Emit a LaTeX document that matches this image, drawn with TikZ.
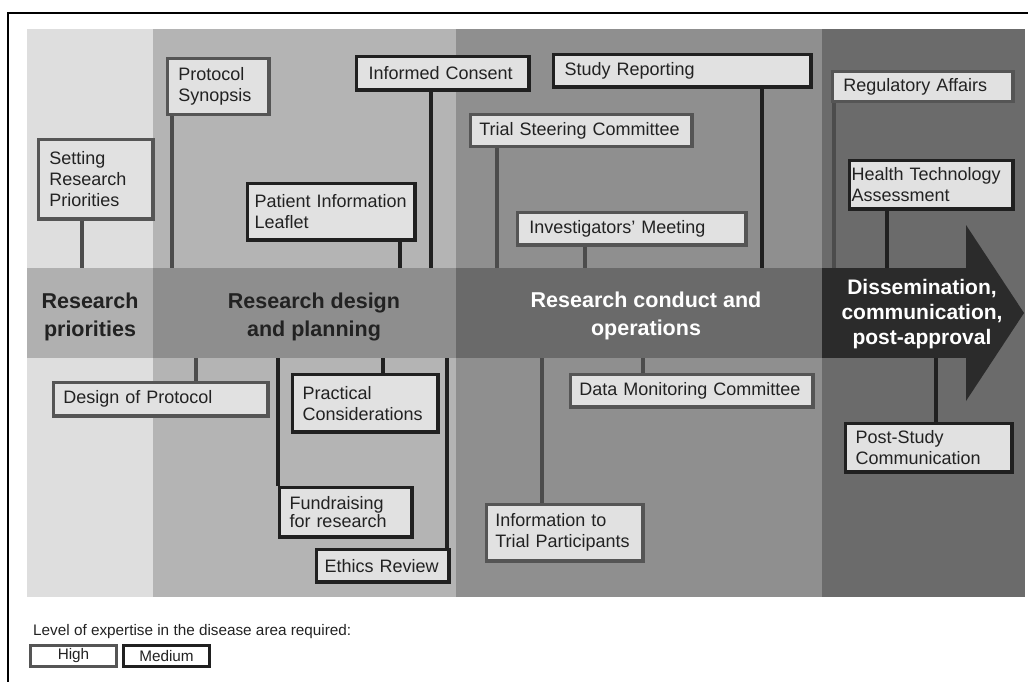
\documentclass[tikz,border=0pt]{standalone}
\usepackage{fontspec}
\setmainfont{Liberation Sans}
\definecolor{bandA}{HTML}{DEDEDE}
\definecolor{bandB}{HTML}{B4B4B4}
\definecolor{bandC}{HTML}{8F8F8F}
\definecolor{bandD}{HTML}{6B6B6B}
\definecolor{segA}{HTML}{B0B0B0}
\definecolor{segB}{HTML}{8E8E8E}
\definecolor{segC}{HTML}{6A6A6A}
\definecolor{segD}{HTML}{2B2B2B}
\definecolor{boxfill}{HTML}{E1E1E1}
\definecolor{hiborder}{HTML}{555555}
\definecolor{medborder}{HTML}{202020}
\definecolor{textdark}{HTML}{222222}
\newcommand\bxfont{\fontsize{18}{21}\selectfont\hyphenpenalty=10000 }
\newcommand\bx[8]{\node[#2, anchor=north west, inner xsep=#7pt, inner ysep=0pt,
  minimum height={(#6-#4-3.4)*1pt}, text width={(#5-#3-3.4-2*#7)*1pt}]
  (#1) at (#3+1.7,#4+1.7) {#8};}
\tikzset{
  hi/.style={draw=hiborder, line width=3.2pt, fill=boxfill, text=textdark, align=left, font=\bxfont},
  med/.style={draw=medborder, line width=3.6pt, fill=boxfill, text=textdark, align=left, font=\bxfont},
  medtight/.style={med, font=\fontsize{18}{18}\selectfont},
  connhi/.style={draw=hiborder!90!black, line width=3.2pt},
  connmed/.style={draw=medborder, line width=3.4pt},
  seg/.style={draw=none, inner sep=0pt, outer sep=0pt, anchor=north west},
  head/.style={font=\fontsize{21.5}{28}\selectfont\bfseries, align=center, inner sep=0pt},
  head2/.style={font=\fontsize{21}{25}\selectfont\bfseries, align=center, inner sep=0pt},
  legbox/.style={line width=3pt, fill=white, text=textdark, minimum width=86pt, minimum height=21pt,
    inner sep=0pt, font=\fontsize{15.3}{18}\selectfont},
}
\begin{document}
\begin{tikzpicture}[x=1pt, y=-1pt]
\useasboundingbox (0,0) rectangle (1028,682);
% frame
\draw[line width=2.5pt] (8,682) -- (8,13) -- (1028,13);
% background bands
\fill[bandA] (27,29) rectangle (153,597);
\fill[bandB] (153,29) rectangle (456,597);
\fill[bandC] (456,29) rectangle (822,597);
\fill[bandD] (822,29) rectangle (1025,597);
% arrow band
\node[seg, fill=segA, minimum width=126pt, minimum height=90pt] (s1) at (27,268) {};
\node[seg, fill=segB, minimum width=303pt, minimum height=90pt] (s2) at (153,268) {};
\node[seg, fill=segC, minimum width=366pt, minimum height=90pt] (s3) at (456,268) {};
\node[seg, fill=segD, minimum width=144pt, minimum height=90pt] (s4) at (822,268) {};
\fill[segD] (s4.north east) -- (966,225) -- (1024,313) -- (966,401) -- (s4.south east) -- cycle;
% headings
\node[head, text=textdark] (t1) at (90,317) {Research\\priorities};
\node[head, text=textdark] (t2) at (314,317) {Research design\\and planning};
\node[head, text=white] (t3) at (646,316) {Research conduct and\\operations};
\node[head2, text=white] (t4) at (922,314) {Dissemination,\\communication,\\post-approval};
% connector x positions
\coordinate (k1) at (82,0);
\coordinate (k2) at (172,0);
\coordinate (k3) at (431,0);
\coordinate (k4) at (400,0);
\coordinate (k5) at (762,0);
\coordinate (k6) at (497,0);
\coordinate (k7) at (585,0);
\coordinate (k8) at (834,0);
\coordinate (k9) at (887,0);
\coordinate (k10) at (196,0);
\coordinate (k11) at (383,0);
\coordinate (k12) at (278,0);
\coordinate (k13) at (447,0);
\coordinate (k14) at (643,0);
\coordinate (k15) at (542,0);
\coordinate (k16) at (936,0);
% boxes above
\bx{srp}{hi}{35}{136}{153}{219}{11}{Setting\\Research\\Priorities}
\bx{ps}{hi}{164}{55}{269}{115}{11}{Protocol\\Synopsis}
\bx{ic}{med}{353}{53}{529}{90}{12}{Informed Consent}
\bx{pil}{med}{244}{180}{415}{240}{7}{Patient Information\\Leaflet}
\bx{sr}{med}{550}{51}{811}{87}{11}{Study Reporting}
\bx{tsc}{hi}{467}{111}{692}{147}{9}{Trial Steering Committee}
\bx{im}{hi}{514}{209}{746}{245}{12}{Investigators' Meeting}
\bx{ra}{hi}{829}{68}{1013}{102}{11}{Regulatory Affairs}
\bx{hta}{med}{846}{157}{1013}{209}{2}{Health Technology\\Assessment}
% boxes below
\bx{dp}{hi}{50}{379}{268}{416}{10}{Design of Protocol}
\bx{pc}{med}{289}{371}{438}{432}{10}{Practical\\Considerations}
\bx{fr}{medtight}{276}{484}{412}{537}{10}{Fundraising\\for research}
\bx{er}{med}{313}{546}{449}{582}{8}{Ethics Review}
\bx{dmc}{hi}{567}{371}{813}{407}{9}{Data Monitoring Committee}
\bx{itp}{hi}{483}{501}{643}{561}{9}{Information to\\Trial Participants}
\bx{psc}{med}{842}{420}{1012}{472}{10}{Post-Study\\Communication}
% connectors above
\draw[connhi] (srp.south -| k1) -- (s1.north -| k1);
\draw[connhi] (ps.south -| k2) -- (s2.north -| k2);
\draw[connmed] (ic.south -| k3) -- (s2.north -| k3);
\draw[connmed] (pil.south -| k4) -- (s2.north -| k4);
\draw[connmed] (sr.south -| k5) -- (s3.north -| k5);
\draw[connhi] (tsc.south -| k6) -- (s3.north -| k6);
\draw[connhi] (im.south -| k7) -- (s3.north -| k7);
\draw[connhi] (ra.south -| k8) -- (s4.north -| k8);
\draw[connmed] (hta.south -| k9) -- (s4.north -| k9);
% connectors below
\draw[connhi] (s2.south -| k10) -- (dp.north -| k10);
\draw[connmed] (s2.south -| k11) -- (pc.north -| k11);
\draw[connmed] (s2.south -| k12) -- (fr.north -| k12);
\draw[connmed] (s2.south -| k13) -- (er.north -| k13);
\draw[connhi] (s3.south -| k14) -- (dmc.north -| k14);
\draw[connhi] (s3.south -| k15) -- (itp.north -| k15);
\draw[connmed] (s4.south -| k16) -- (psc.north -| k16);
% legend
\node[anchor=base west, inner sep=0pt, text=textdark, font=\fontsize{15.3}{18}\selectfont] (leg) at (33,635) {Level of expertise in the disease area required:};
\node[legbox, draw=hiborder] (lh) at (73.5,656) {High};
\node[legbox, draw=medborder] (lm) at (166.5,656) {Medium};
\end{tikzpicture}
\end{document}
